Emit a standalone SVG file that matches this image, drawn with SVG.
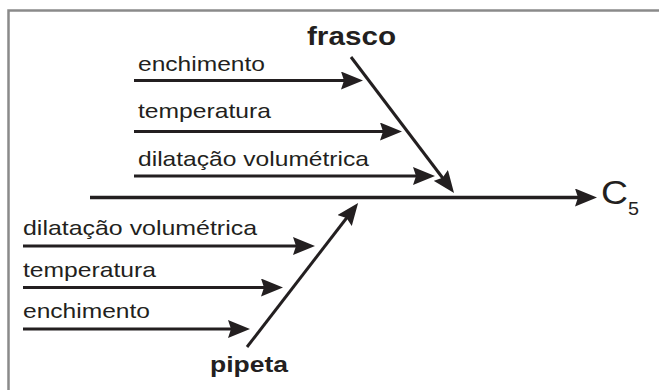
<svg xmlns="http://www.w3.org/2000/svg" width="659" height="390" viewBox="0 0 659 390">
<style>
.lbl{font-family:"Liberation Sans",Arial,sans-serif;font-size:21px;fill:#231f20}
.bold{font-family:"Liberation Sans",Arial,sans-serif;font-size:22px;font-weight:bold;fill:#231f20}
.big{font-family:"Liberation Sans",Arial,sans-serif;font-size:33px;fill:#231f20}
.sub{font-family:"Liberation Sans",Arial,sans-serif;font-size:19px;fill:#231f20}
.arr{stroke:#231f20;stroke-width:3;fill:none;marker-end:url(#ah)}
.spine{stroke:#231f20;stroke-width:3.5;fill:none;marker-end:url(#ah)}
.frame{stroke:#8a8a8a;stroke-width:2.5;fill:none}
</style>
<defs>
<marker id="ah" viewBox="0 0 22 18" refX="12" refY="9" markerWidth="22" markerHeight="18" markerUnits="userSpaceOnUse" orient="auto">
<path d="M0,0 L22,9 L0,18 L3,9 z" fill="#231f20"/>
</marker>
</defs>
<rect width="659" height="390" fill="#fff"/>
<path class="frame" d="M8.5,390 V10.5 H659"/>
<g id="connectors">
<line class="spine" x1="90" y1="197.5" x2="587" y2="197.5"/>
<line class="arr" x1="134" y1="80.5" x2="353" y2="80.5"/>
<line class="arr" x1="134" y1="131.5" x2="392" y2="131.5"/>
<line class="arr" x1="134" y1="176" x2="425" y2="176"/>
<line class="arr" x1="351" y1="57" x2="448" y2="185"/>
<line class="arr" x1="23" y1="246" x2="305" y2="246"/>
<line class="arr" x1="23" y1="287.5" x2="273" y2="287.5"/>
<line class="arr" x1="23" y1="329" x2="240" y2="329"/>
<line class="arr" x1="247" y1="347" x2="352" y2="211"/>
</g>
<g id="effect-c5">
<text class="big" x="601" y="204" textLength="27" lengthAdjust="spacingAndGlyphs">C</text>
<text class="sub" x="628" y="215" textLength="11" lengthAdjust="spacingAndGlyphs">5</text>
</g>
<g id="frasco">
<text class="bold" x="307" y="45" style="font-size:25px" textLength="89" lengthAdjust="spacingAndGlyphs">frasco</text>
</g>
<g id="frasco-enchimento"><text class="lbl" x="138" y="71" textLength="127" lengthAdjust="spacingAndGlyphs">enchimento</text></g>
<g id="frasco-temperatura"><text class="lbl" x="138" y="117.5" textLength="133" lengthAdjust="spacingAndGlyphs">temperatura</text></g>
<g id="frasco-dilatacao"><text class="lbl" x="138" y="166" textLength="231" lengthAdjust="spacingAndGlyphs">dilatação volumétrica</text></g>
<g id="pipeta">
<text class="bold" x="210" y="372" textLength="78" lengthAdjust="spacingAndGlyphs">pipeta</text>
</g>
<g id="pipeta-dilatacao"><text class="lbl" x="23" y="235" textLength="234" lengthAdjust="spacingAndGlyphs">dilatação volumétrica</text></g>
<g id="pipeta-temperatura"><text class="lbl" x="23" y="277" textLength="133" lengthAdjust="spacingAndGlyphs">temperatura</text></g>
<g id="pipeta-enchimento"><text class="lbl" x="23" y="318" textLength="127" lengthAdjust="spacingAndGlyphs">enchimento</text></g>
</svg>
